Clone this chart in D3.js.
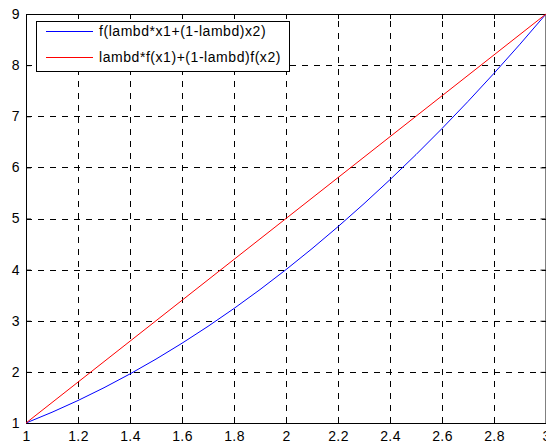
<!DOCTYPE html>
<html>
<head>
<meta charset="utf-8">
<title>convexity</title>
<script src="https://cdn.jsdelivr.net/npm/d3@7"></script>
<style>
  body { margin: 0; background: #fff; }
  svg { display: block; }
  .tick text { font: 14px "Liberation Sans", Arial, sans-serif; fill: #000; letter-spacing: 0.4px; }
  .grid line { stroke: #000; stroke-dasharray: 6,6; shape-rendering: crispEdges; }
  .legend text { font: 14px "Liberation Sans", Arial, sans-serif; letter-spacing: 0.55px; }
</style>
</head>
<body>
<script>
// values
var xValues = [1, 1.1, 1.2, 1.3, 1.4, 1.5, 1.6, 1.7, 1.8, 1.9, 2, 2.1, 2.2, 2.3, 2.4, 2.5, 2.6, 2.7, 2.8, 2.9, 3];
var blueValues = [1, 1.21, 1.44, 1.69, 1.96, 2.25, 2.56, 2.89, 3.24, 3.61, 4, 4.41, 4.84, 5.29, 5.76, 6.25, 6.76, 7.29, 7.84, 8.41, 9];
var redValues = [1, 1.4, 1.8, 2.2, 2.6, 3, 3.4, 3.8, 4.2, 4.6, 5, 5.4, 5.8, 6.2, 6.6, 7, 7.4, 7.8, 8.2, 8.6, 9];
var xTicks = [1, 1.2, 1.4, 1.6, 1.8, 2, 2.2, 2.4, 2.6, 2.8, 3];
var yTicks = [1, 2, 3, 4, 5, 6, 7, 8, 9];
var seriesNames = ["f(lambd*x1+(1-lambd)x2)", "lambd*f(x1)+(1-lambd)f(x2)"];
var seriesColors = ["#0000ff", "#ff0000"];

(function() {
    var W = 546, H = 444;
    var m = { left: 26, right: 546, top: 14, bottom: 423 };

    var x = d3.scaleLinear().domain([1, 3]).range([m.left, m.right]);
    var y = d3.scaleLinear().domain([1, 9]).range([m.bottom, m.top]);

    var svg = d3.select("body").append("svg")
        .attr("width", W)
        .attr("height", H);

    // grid
    var grid = svg.append("g").attr("class", "grid");
    grid.selectAll(".gx")
        .data(xTicks.slice(1, -1))
        .enter().append("line")
        .attr("x1", function(d) { return Math.round(x(d)) + 0.5; })
        .attr("x2", function(d) { return Math.round(x(d)) + 0.5; })
        .attr("y1", m.bottom)
        .attr("y2", m.top);
    grid.selectAll(".gy")
        .data(yTicks.slice(1, -1))
        .enter().append("line")
        .attr("y1", function(d) { return Math.round(y(d)) + 0.5; })
        .attr("y2", function(d) { return Math.round(y(d)) + 0.5; })
        .attr("x1", m.left)
        .attr("x2", m.right);

    // axes, ticks pointing inward like matlab
    function styleAxis(g) {
        g.select(".domain").attr("stroke", "#000");
        g.selectAll(".tick line").attr("stroke", "#000");
    }
    svg.append("g")
        .attr("transform", "translate(0," + m.bottom + ")")
        .call(d3.axisBottom(x).tickValues(xTicks).tickSizeInner(-5).tickSizeOuter(0).tickPadding(8).tickFormat(d3.format("")))
        .call(styleAxis);
    svg.append("g")
        .attr("transform", "translate(0," + m.top + ")")
        .call(d3.axisTop(x).tickValues(xTicks).tickSizeInner(-5).tickSizeOuter(0).tickFormat(""))
        .call(styleAxis);
    svg.append("g")
        .attr("transform", "translate(" + m.left + ",0)")
        .call(d3.axisLeft(y).tickValues(yTicks).tickSizeInner(-5).tickSizeOuter(0).tickPadding(6))
        .call(styleAxis);
    svg.append("g")
        .attr("transform", "translate(" + (m.right - 0.5) + ",0)")
        .call(d3.axisRight(y).tickValues(yTicks).tickSizeInner(-5).tickSizeOuter(0).tickFormat(""))
        .call(styleAxis);

    // lines
    var line = d3.line()
        .x(function(d) { return x(d[0]); })
        .y(function(d) { return y(d[1]); });

    [blueValues, redValues].forEach(function(vals, i) {
        svg.append("path")
            .datum(xValues.map(function(v, j) { return [v, vals[j]]; }))
            .attr("fill", "none")
            .attr("stroke", seriesColors[i])
            .attr("stroke-width", 1)
            .attr("d", line);
    });

    // legend
    var lg = svg.append("g").attr("class", "legend");
    lg.append("rect")
        .attr("x", 36.5).attr("y", 21.5)
        .attr("width", 253).attr("height", 50)
        .attr("fill", "#fff").attr("stroke", "#000");
    seriesNames.forEach(function(name, i) {
        var yy = 31.5 + i * 26;
        lg.append("line")
            .attr("x1", 46).attr("x2", 93)
            .attr("y1", yy).attr("y2", yy)
            .attr("stroke", seriesColors[i]);
        lg.append("text")
            .attr("x", 99).attr("y", yy)
            .attr("dy", "0.35em")
            .text(name);
    });
})();
</script>
</body>
</html>
